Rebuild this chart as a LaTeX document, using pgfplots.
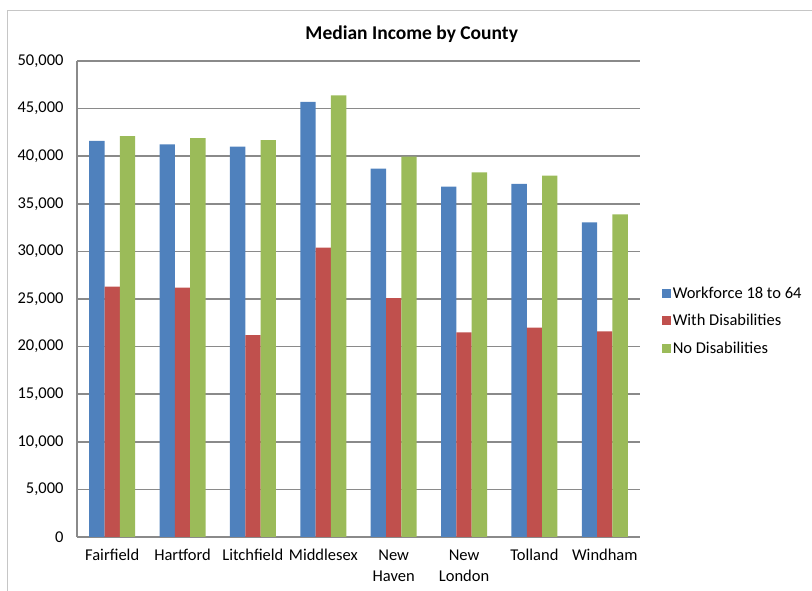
\documentclass[border=0pt]{standalone}
\usepackage{fontspec}
\setmainfont{Carlito}
\usepackage{pgfplots}
\pgfplotsset{compat=1.18}

\definecolor{cblue}{HTML}{4F81BD}
\definecolor{cred}{HTML}{C0504D}
\definecolor{cgreen}{HTML}{9BBB59}
\definecolor{gridgray}{HTML}{8A8A8A}

\begin{document}
\begin{tikzpicture}[x=1bp,y=1bp]
\useasboundingbox (0,0) rectangle (812,591);
\draw[gray!45, line width=0.8bp] (7,0) -- (7,581) -- (812,581);
\node[font=\fontsize{19.5bp}{22bp}\selectfont\bfseries] at (411.7,556.5) {Median Income by County};
\begin{axis}[
    at={(77bp,54bp)}, anchor=south west,
    scale only axis,
    width=563bp, height=476bp,
    ybar=0pt, bar width=15.3bp,
    xmin=-0.5, xmax=7.5,
    ymin=0, ymax=50000,
    ytick={0,5000,...,50000},
    xtick={0,...,7},
    xticklabels={Fairfield,Hartford,Litchfield,Middlesex,New\\Haven,New\\London,Tolland,Windham},
    xticklabel style={align=center, yshift=-9bp},
    yticklabel style={xshift=-10bp},
    scaled y ticks=false,
    /pgf/number format/.cd, 1000 sep={,}, assume math mode=true, /pgfplots/.cd,
    tick label style={font=\fontsize{16.5bp}{21bp}\selectfont},
    major tick length=0pt,
    axis x line*=bottom, axis y line*=left,
    axis line style={draw=gridgray, line width=1.5bp, -},
    ymajorgrids, grid style={draw=gridgray, line width=1.5bp},
    legend style={at={(1.033,0.454)}, anchor=west, draw=none, fill=none,
        font=\fontsize{16.5bp}{21bp}\selectfont, row sep=10.5bp,
        /tikz/every odd column/.append style={column sep=0bp}},
    legend cell align=left,
    legend image code/.code={\fill[#1,draw=none] (0bp,-4.5bp) rectangle (9bp,4.5bp);},
]
\addplot[fill=cblue, draw=none] coordinates {(0,41600) (1,41250) (2,41000) (3,45700) (4,38700) (5,36800) (6,37100) (7,33050)};
\addplot[fill=cred, draw=none] coordinates {(0,26300) (1,26200) (2,21200) (3,30400) (4,25100) (5,21500) (6,22000) (7,21600)};
\addplot[fill=cgreen, draw=none] coordinates {(0,42100) (1,41900) (2,41700) (3,46400) (4,39950) (5,38300) (6,37950) (7,33900)};
\legend{Workforce 18 to 64, With Disabilities, No Disabilities}
\end{axis}
\end{tikzpicture}
\end{document}
